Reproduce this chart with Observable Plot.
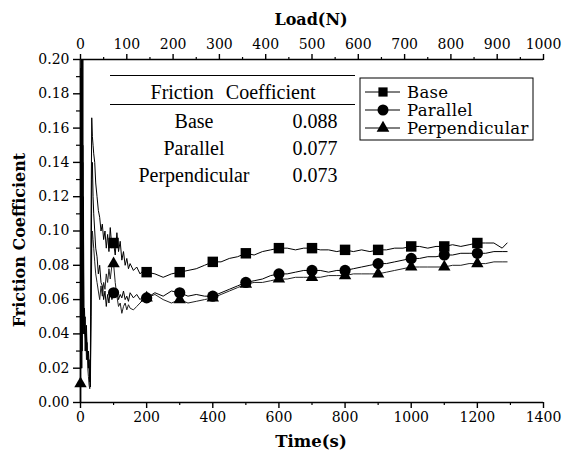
<!DOCTYPE html>
<html>
<head>
<meta charset="utf-8">
<script src="https://cdn.jsdelivr.net/npm/d3@7"></script>
<script src="https://cdn.jsdelivr.net/npm/@observablehq/plot@0.6"></script>
<style>
  html, body { margin: 0; padding: 0; background: #fff; }
</style>
</head>
<body>
<div id="chart"></div>
<script>
// ---- Data ----
const times = [0,1,2,3,4,5,6,7,8,9,10,12,14,16,18,20,22,24,26,28,30,32,34,36,38,40,43,46,50,54,58,62,66,70,74,78,82,86,90,95,100,105,110,115,120,125,130,135,140,145,150,160,170,180,190,200,
  225,250,275,300,325,350,375,400,425,450,475,500,525,550,575,600,625,650,675,700,725,750,775,800,825,850,875,900,925,950,975,1000,1025,1050,1075,1100,1125,1150,1175,1200,1225,1250,1275,1290];

const baseValues = [0.012,0.195,0.03,0.19,0.05,0.2,0.04,0.15,0.06,0.1,0.045,0.055,0.04,0.035,0.045,0.03,0.025,0.03,0.02,0.012,0.03,0.11,0.166,0.155,0.15,0.145,0.14,0.128,0.12,0.112,0.108,0.1,0.104,0.095,0.1,0.09,0.098,0.088,0.102,0.09,0.093,0.086,0.099,0.088,0.094,0.083,0.088,0.08,0.084,0.078,0.081,0.077,0.079,0.075,0.077,0.076,
  0.075,0.073,0.075,0.076,0.077,0.078,0.08,0.082,0.082,0.084,0.085,0.087,0.086,0.088,0.089,0.09,0.09,0.089,0.09,0.09,0.089,0.089,0.088,0.089,0.088,0.089,0.088,0.089,0.089,0.09,0.09,0.091,0.091,0.09,0.091,0.091,0.092,0.091,0.092,0.093,0.093,0.093,0.09,0.093];

const parallelValues = [0.01,0.18,0.02,0.2,0.03,0.17,0.05,0.2,0.04,0.12,0.05,0.04,0.05,0.03,0.04,0.025,0.03,0.02,0.025,0.015,0.009,0.06,0.13,0.14,0.12,0.11,0.1,0.09,0.085,0.075,0.08,0.07,0.068,0.06,0.065,0.056,0.063,0.058,0.066,0.06,0.064,0.062,0.066,0.06,0.063,0.061,0.065,0.06,0.062,0.059,0.064,0.061,0.063,0.06,0.062,0.061,
  0.064,0.062,0.065,0.064,0.062,0.063,0.062,0.062,0.064,0.066,0.068,0.07,0.071,0.072,0.074,0.075,0.075,0.076,0.077,0.077,0.077,0.076,0.077,0.077,0.078,0.079,0.08,0.081,0.081,0.082,0.083,0.084,0.084,0.085,0.085,0.086,0.086,0.087,0.087,0.087,0.087,0.088,0.088,0.088];

const perpValues = [0.011,0.2,0.04,0.16,0.02,0.19,0.03,0.14,0.045,0.08,0.04,0.045,0.03,0.04,0.025,0.035,0.02,0.015,0.01,0.008,0.02,0.05,0.09,0.1,0.095,0.09,0.082,0.075,0.07,0.065,0.06,0.068,0.062,0.07,0.066,0.075,0.07,0.078,0.072,0.08,0.081,0.07,0.062,0.056,0.058,0.052,0.056,0.058,0.054,0.057,0.055,0.054,0.056,0.058,0.06,0.061,
  0.063,0.06,0.058,0.06,0.058,0.059,0.06,0.061,0.063,0.065,0.067,0.069,0.07,0.07,0.071,0.072,0.072,0.073,0.073,0.073,0.073,0.074,0.074,0.074,0.075,0.075,0.075,0.075,0.076,0.077,0.078,0.079,0.079,0.079,0.079,0.079,0.08,0.08,0.081,0.081,0.081,0.082,0.082,0.082];

const seriesNames = ["Base", "Parallel", "Perpendicular"];
const markerTimesBase = [100,200,300,400,500,600,700,800,900,1000,1100,1200];
const markerTimesParallel = [100,200,300,400,500,600,700,800,900,1000,1100,1200];
const markerTimesPerp = [0,100,200,300,400,500,600,700,800,900,1000,1100,1200];

const tableNames = ["Base", "Parallel", "Perpendicular"];
const tableValues = ["0.088", "0.077", "0.073"];

const timeTicks = [0,200,400,600,800,1000,1200,1400];
const timeMinor = [100,300,500,700,900,1100,1300];
const loadTicks = [0,100,200,300,400,500,600,700,800,900,1000];
const loadMinor = [50,150,250,350,450,550,650,750,850,950];
const yTicks = [0,0.02,0.04,0.06,0.08,0.10,0.12,0.14,0.16,0.18,0.20];
const yMinor = [0.01,0.03,0.05,0.07,0.09,0.11,0.13,0.15,0.17,0.19];
const loadPerTime = 1000 / 1400;

// ---- Build tables ----
const mk = (vals) => times.map((t, i) => ({t, v: vals[i]}));
const base = mk(baseValues), parallel = mk(parallelValues), perp = mk(perpValues);
const pick = (data, ts) => data.filter(d => ts.includes(d.t));

const serif = "'DejaVu Serif', serif";
const W = 563, H = 454;
const mL = 80, mR = 20, mT = 59, mB = 52;

const svg = Plot.plot({
  width: W, height: H,
  marginLeft: mL, marginRight: mR, marginTop: mT, marginBottom: mB,
  style: {fontFamily: serif, fontSize: "14px", color: "black", background: "white"},
  x: {domain: [0, 1400], axis: null},
  y: {domain: [0, 0.2], axis: null},
  marks: [
    // bottom axis (time)
    Plot.axisX({anchor: "bottom", ticks: timeTicks, tickSize: 6, tickPadding: 4, strokeWidth: 1.4, tickFormat: d => String(d), label: null}),
    Plot.axisX({anchor: "bottom", ticks: timeMinor, tickSize: 3, strokeWidth: 1.2, tickFormat: () => "", label: null}),
    // top axis (load)
    Plot.axisX({anchor: "top", ticks: loadTicks.map(l => l / loadPerTime), tickSize: 6, tickPadding: 5, strokeWidth: 1.4,
      tickFormat: d => String(Math.round(d * loadPerTime)), label: null}),
    Plot.axisX({anchor: "top", ticks: loadMinor.map(l => l / loadPerTime), tickSize: 3, strokeWidth: 1.2, tickFormat: () => "", label: null}),
    // left axis
    Plot.axisY({anchor: "left", ticks: yTicks, tickSize: 7, tickPadding: 4, strokeWidth: 1.4, tickFormat: d3.format(".2f"), label: null}),
    Plot.axisY({anchor: "left", ticks: yMinor, tickSize: 4, strokeWidth: 1.2, tickFormat: () => "", label: null}),
    Plot.ruleY([0], {stroke: "black", strokeWidth: 1.6}),
    Plot.ruleY([0.2], {stroke: "black", strokeWidth: 1.6}),
    Plot.ruleX([0], {stroke: "black", strokeWidth: 1.8}),
    // series lines
    Plot.line(perp, {x: "t", y: "v", stroke: "#222", strokeWidth: 1}),
    Plot.line(parallel, {x: "t", y: "v", stroke: "black", strokeWidth: 1}),
    Plot.line(base, {x: "t", y: "v", stroke: "black", strokeWidth: 1}),
    // markers
    Plot.dot(pick(base, markerTimesBase), {x: "t", y: "v", symbol: "square", r: 5.9, fill: "black", stroke: "none"}),
    Plot.dot(pick(parallel, markerTimesParallel), {x: "t", y: "v", symbol: "circle", r: 5.6, fill: "black", stroke: "none"}),
    Plot.dot(pick(perp, markerTimesPerp), {x: "t", y: "v", symbol: "triangle", r: 4.6, fill: "black", stroke: "none"})
  ]
});

document.getElementById("chart").appendChild(svg);

// ---- Titles, table and legend ----
const s = d3.select(svg);
const g = s.append("g").attr("fill", "black").attr("text-anchor", "start");

g.append("text").attr("x", 311).attr("y", 447).attr("text-anchor", "middle")
  .attr("font-family", serif).attr("font-weight", "bold").attr("font-size", 16.5).text("Time(s)");
g.append("text").attr("x", 311).attr("y", 25).attr("text-anchor", "middle")
  .attr("font-family", serif).attr("font-weight", "bold").attr("font-size", 16).text("Load(N)");
g.append("text").attr("transform", "translate(25,240) rotate(-90)").attr("text-anchor", "middle")
  .attr("font-family", serif).attr("font-weight", "bold").attr("font-size", 16).text("Friction Coefficient");

// table
const times2 = "'Liberation Serif', 'Times New Roman', serif";
g.append("line").attr("x1", 110).attr("x2", 355).attr("y1", 75.5).attr("y2", 75.5).attr("stroke", "black").attr("stroke-width", 1);
g.append("line").attr("x1", 110).attr("x2", 355).attr("y1", 104.5).attr("y2", 104.5).attr("stroke", "black").attr("stroke-width", 1);
g.append("text").attr("x", 233).attr("y", 99).attr("text-anchor", "middle")
  .attr("font-family", times2).attr("font-size", 20).attr("word-spacing", 7).text("Friction Coefficient");
tableNames.forEach((n, i) => {
  g.append("text").attr("x", 194).attr("y", 128 + i * 27).attr("text-anchor", "middle")
    .attr("font-family", times2).attr("font-size", 20).text(n);
  g.append("text").attr("x", 315).attr("y", 128 + i * 27).attr("text-anchor", "middle")
    .attr("font-family", times2).attr("font-size", 20).text(tableValues[i]);
});

// legend
const lg = g.append("g");
lg.append("rect").attr("x", 360).attr("y", 78).attr("width", 173).attr("height", 62)
  .attr("fill", "white").attr("stroke", "black").attr("stroke-width", 1);
const symbols = [d3.symbolSquare, d3.symbolCircle, d3.symbolTriangle];
const sizes = [85, 95, 70];
seriesNames.forEach((n, i) => {
  const cy = 92 + i * 18;
  lg.append("line").attr("x1", 365).attr("x2", 400).attr("y1", cy).attr("y2", cy).attr("stroke", "black").attr("stroke-width", 1);
  lg.append("path").attr("d", d3.symbol(symbols[i], sizes[i])()).attr("transform", `translate(383,${cy})`).attr("fill", "black");
  lg.append("text").attr("x", 407).attr("y", cy + 6).attr("text-anchor", "start")
    .attr("font-family", serif).attr("font-size", 16.5).attr("letter-spacing", 0.3).text(n);
});
</script>
</body>
</html>
